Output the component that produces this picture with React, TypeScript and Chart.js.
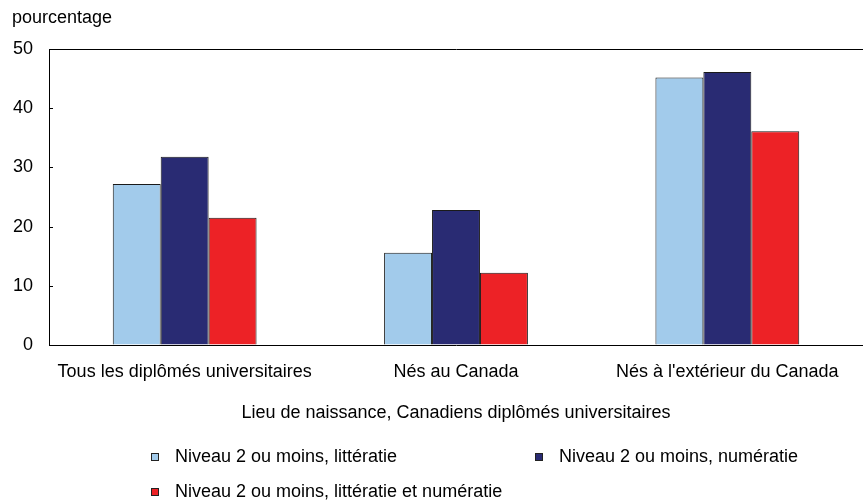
import React, { useEffect, useRef } from "react";
import { Chart, registerables } from "chart.js";

Chart.register(...registerables);

const categories = [
  "Tous les diplômés universitaires",
  "Nés au Canada",
  "Nés à l'extérieur du Canada",
];
const seriesNames = [
  "Niveau 2 ou moins, littératie",
  "Niveau 2 ou moins, numératie",
  "Niveau 2 ou moins, littératie et numératie",
];
const literacy = [27.2, 15.6, 45.2];
const numeracy = [31.8, 22.8, 46.1];
const both = [21.5, 12.2, 36.1];
const seriesColors = ["#A2CBEB", "#292B73", "#ED2226"];
const yTicks = [0, 10, 20, 30, 40, 50];
const yUnit = "pourcentage";
const xTitle = "Lieu de naissance, Canadiens diplômés universitaires";

const FONT = "'Liberation Sans', Arial, sans-serif";
const FS = 18;

const decorPlugin = {
  id: "decor",
  afterDraw(chart: any) {
    const ctx = chart.ctx;
    const ca = chart.chartArea;
    const y = chart.scales.y;
    ctx.save();
    ctx.strokeStyle = "#000";
    ctx.lineWidth = 1;
    yTicks.forEach((v) => {
      if (v === 0 || v === 50) return;
      const py = Math.round(y.getPixelForValue(v)) + 0.5;
      ctx.beginPath();
      ctx.moveTo(ca.left, py);
      ctx.lineTo(ca.left + 4, py);
      ctx.stroke();
    });
    ctx.fillStyle = "#000";
    ctx.font = `${FS}px ${FONT}`;
    ctx.textBaseline = "middle";
    ctx.textAlign = "left";
    ctx.fillText(yUnit, 12, 18);
    ctx.textAlign = "center";
    ctx.fillText(xTitle, (ca.left + ca.right) / 2, 413);
    const items = [
      { x: 151, y: 457 },
      { x: 535, y: 457 },
      { x: 151, y: 492 },
    ];
    chart.data.datasets.forEach((ds: any, i: number) => {
      const it = items[i];
      ctx.fillStyle = ds.backgroundColor;
      ctx.fillRect(it.x, it.y - 4, 8, 8);
      ctx.strokeStyle = "#222";
      ctx.strokeRect(it.x + 0.5, it.y - 3.5, 7, 7);
      ctx.fillStyle = "#000";
      ctx.textAlign = "left";
      ctx.fillText(ds.label, it.x + 24, it.y);
    });
    ctx.restore();
  },
};

export default function App() {
  const ref = useRef<HTMLCanvasElement>(null);
  useEffect(() => {
    if (!ref.current) return;
    const data = [literacy, numeracy, both];
    const chart = new Chart(ref.current, {
      type: "bar",
      data: {
        labels: categories,
        datasets: data.map((d, i) => ({
          label: seriesNames[i],
          data: d,
          backgroundColor: seriesColors[i],
          borderColor: "#1a1a1a",
          borderWidth: 1,
          categoryPercentage: 0.53,
          barPercentage: 1,
        })),
      },
      options: {
        animation: false,
        responsive: true,
        maintainAspectRatio: false,
        layout: { padding: { top: 49, bottom: 0, left: 0, right: 0 } },
        plugins: { legend: { display: false }, tooltip: { enabled: false }, title: { display: false } },
        scales: {
          x: {
            grid: { display: false },
            border: { display: true, color: "#000", width: 1 },
            ticks: {
              color: "#000",
              font: { family: FONT, size: FS },
              padding: 8,
              maxRotation: 0,
              autoSkip: false,
            },
            afterFit(scale: any) {
              scale.height = 159;
            },
          },
          y: {
            min: 0,
            max: 50,
            ticks: { stepSize: 10, color: "#000", font: { family: FONT, size: FS }, padding: 16 },
            grid: {
              drawTicks: false,
              color: (c: any) => (c.tick && c.tick.value === 50 ? "#000" : "rgba(0,0,0,0)"),
            },
            border: { display: true, color: "#000", width: 1 },
            afterFit(scale: any) {
              scale.width = 49;
            },
          },
        },
      },
      plugins: [decorPlugin],
    });
    return () => chart.destroy();
  }, []);
  return (
    <div style={{ position: "fixed", left: 0, top: 0, width: 863, height: 504, background: "#fff" }}>
      <canvas ref={ref} />
    </div>
  );
}
